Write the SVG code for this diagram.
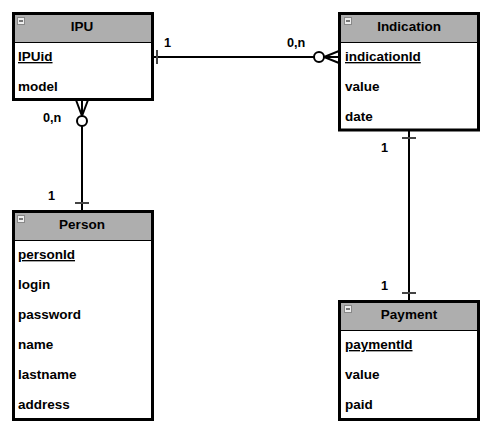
<svg xmlns="http://www.w3.org/2000/svg" width="497" height="438" viewBox="0 0 497 438">
<style>
.box{fill:#ffffff;stroke:#000;stroke-width:3}
.hdr{fill:#aeaeae;stroke:none}
.sep{stroke:#000;stroke-width:1}
.ttl{font-family:"Liberation Sans",Arial,sans-serif;font-weight:bold;font-size:13.5px;fill:#000;text-anchor:middle}
.att{font-family:"Liberation Sans",Arial,sans-serif;font-weight:bold;font-size:13.5px;fill:#000}
.pk{text-decoration:underline}
.ico{fill:#eeeeee;stroke:#888;stroke-width:1}
.icl{stroke:#000;stroke-width:1}
.edge{fill:none;stroke:#000;stroke-width:2}
.tick{stroke:#444;stroke-width:2}
.circ{fill:#fff;stroke:#000;stroke-width:2}
.lbl{font-family:"Liberation Sans",Arial,sans-serif;font-weight:bold;font-size:12.7px;fill:#000}
</style>
<g id="connectors">
<line class="edge" x1="152" y1="57" x2="339" y2="57"/>
<line class="tick" x1="157" y1="50" x2="157" y2="64"/>
<path class="edge" d="M339 51 L324 57 L339 63"/>
<circle class="circ" cx="319" cy="57" r="5"/>
<line class="edge" x1="82" y1="100" x2="82" y2="210"/>
<path class="edge" d="M76 100 L82 116 L88 100"/>
<circle class="circ" cx="82" cy="121" r="5"/>
<line class="tick" x1="75" y1="203" x2="89" y2="203"/>
<line class="edge" x1="409" y1="130" x2="409" y2="300"/>
<line class="tick" x1="402" y1="138" x2="416" y2="138"/>
<line class="tick" x1="402" y1="293" x2="416" y2="293"/>
<text class="lbl" x="164" y="47">1</text>
<text class="lbl" x="287" y="47">0,n</text>
<text class="lbl" x="43" y="122">0,n</text>
<text class="lbl" x="48" y="200">1</text>
<text class="lbl" x="381" y="152">1</text>
<text class="lbl" x="381" y="290">1</text>
</g>
<g id="ipu">
<rect class="box" x="13.5" y="13.5" width="139" height="86"/>
<rect class="hdr" x="15" y="15" width="136" height="27.5"/>
<line class="sep" x1="15" y1="42.5" x2="151" y2="42.5"/>
<rect class="ico" x="17.5" y="17.5" width="7" height="7"/>
<line class="icl" x1="19" y1="21" x2="23" y2="21"/>
<text class="ttl" x="82" y="31">IPU</text>
<text class="att pk" x="18" y="61">IPUid</text>
<text class="att" x="18" y="91">model</text>
</g>
<g id="indication">
<rect class="box" x="339.5" y="13.5" width="139" height="116.5"/>
<rect class="hdr" x="341" y="15" width="136" height="27.5"/>
<line class="sep" x1="341" y1="42.5" x2="477" y2="42.5"/>
<rect class="ico" x="344.5" y="17.5" width="7" height="7"/>
<line class="icl" x1="346" y1="21" x2="350" y2="21"/>
<text class="ttl" x="409" y="31">Indication</text>
<text class="att pk" x="345" y="61">indicationId</text>
<text class="att" x="345" y="91">value</text>
<text class="att" x="345" y="121">date</text>
</g>
<g id="person">
<rect class="box" x="13.5" y="211.5" width="139" height="208"/>
<rect class="hdr" x="15" y="213" width="136" height="27.5"/>
<line class="sep" x1="15" y1="240.5" x2="151" y2="240.5"/>
<rect class="ico" x="17.5" y="215.5" width="7" height="7"/>
<line class="icl" x1="19" y1="219" x2="23" y2="219"/>
<text class="ttl" x="82" y="229">Person</text>
<text class="att pk" x="18" y="259">personId</text>
<text class="att" x="18" y="289">login</text>
<text class="att" x="18" y="319">password</text>
<text class="att" x="18" y="349">name</text>
<text class="att" x="18" y="379">lastname</text>
<text class="att" x="18" y="409">address</text>
</g>
<g id="payment">
<rect class="box" x="339.5" y="301.5" width="139" height="118"/>
<rect class="hdr" x="341" y="303" width="136" height="27.5"/>
<line class="sep" x1="341" y1="330.5" x2="477" y2="330.5"/>
<rect class="ico" x="344.5" y="305.5" width="7" height="7"/>
<line class="icl" x1="346" y1="309" x2="350" y2="309"/>
<text class="ttl" x="409" y="319">Payment</text>
<text class="att pk" x="345" y="349">paymentId</text>
<text class="att" x="345" y="379">value</text>
<text class="att" x="345" y="409">paid</text>
</g>
</svg>
